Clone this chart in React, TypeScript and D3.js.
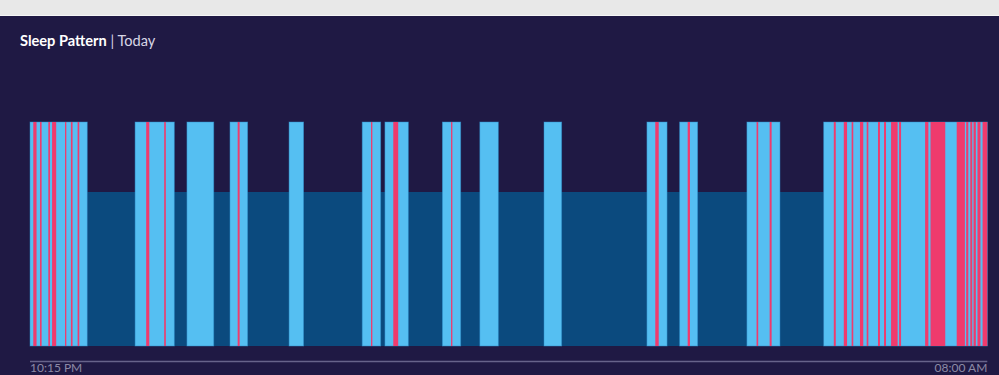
import React from 'react';
import * as d3 from 'd3';

// minutes after 10:15 PM, night ends 08:00 AM (585 min)
const nightLength = 585;
const tickLabels = ['10:15 PM', '08:00 AM'];

// asleep (dark blue, low bar)
const asleepPeriods: [number, number][] = [[35, 485]];

// restless (light blue, tall)
const restlessPeriods: [number, number][] = [
  [0, 35], [64.2, 88.2], [95.9, 112.3], [122.2, 133], [158.3, 167.2],
  [203, 214.3], [216.9, 231.2], [252, 263.2], [274.9, 286.2], [314.1, 324.9],
  [377, 389.3], [397, 408], [438.1, 458.3], [485, 585],
];

// awake (pink, tall)
const awakePeriods: [number, number][] = [
  [2, 4], [6.1, 7.1], [11.2, 12.2], [13.5, 16], [21.4, 22.2], [25, 26], [29.1, 30.1],
  [71, 72.9], [82, 83], [126.9, 128.1], [208.4, 209.2], [222, 225], [257.3, 258.1],
  [382.1, 384.2], [401.9, 403.3], [444, 445], [452, 453.2],
  [491.2, 492.4], [497.3, 499.3], [502.1, 503.1], [507.2, 509.2], [511.3, 512.3],
  [518.2, 519.4], [521.9, 523.1], [526.2, 530.2], [531.1, 532.3], [547, 549],
  [550.3, 559.3], [566.3, 571.3], [572.1, 573.4], [574.6, 575.8], [576.6, 578],
  [579, 580.8], [582.1, 585],
];

const W = 999;
const H = 375;

export default function App() {
  const x = d3.scaleLinear().domain([0, nightLength]).range([30, 987.3]);
  // level scale: 0 = baseline, 2 = restless/awake height
  const y = d3.scaleLinear().domain([0, 2]).range([346, 122]);
  const yAsleep = 192;

  const rects = (data: [number, number][], top: number, fill: string, stroke?: string) =>
    data.map(([s, e], i) => (
      <rect
        key={fill + i}
        x={x(s)}
        y={top}
        width={Math.max(0.8, x(e) - x(s))}
        height={y(0) - top}
        fill={fill}
        stroke={stroke || 'none'}
        strokeWidth={stroke ? 0.8 : 0}
        strokeOpacity={0.6}
      />
    ));

  const font = "Lato, 'Open Sans', sans-serif";

  return (
    <svg width={W} height={H} style={{ position: 'absolute', left: 0, top: 0 }}>
      <rect x={0} y={0} width={W} height={H} fill="#1f1944" />
      <rect x={0} y={0} width={W} height={15} fill="#e8e8e8" />
      <rect x={0} y={15} width={W} height={1} fill="#f6f6f6" />

      <text x={20} y={46} fontFamily={font} fontSize={14.6} fill="#ffffff">
        <tspan fontWeight={700}>Sleep Pattern</tspan>
        <tspan fill="#d8d6e6" fontWeight={400}> | Today</tspan>
      </text>

      {rects(asleepPeriods, yAsleep, '#0b4a7e')}
      {rects(restlessPeriods, y(2), '#55bff2', '#2f8cc8')}
      {rects(awakePeriods, y(2), '#ef3b6d')}

      <line x1={x(0)} x2={x(nightLength)} y1={361.5} y2={361.5} stroke="#67638a" strokeWidth={1.5} />
      <text x={x(0)} y={372} fontFamily={font} fontSize={12} fill="#8d8aa6">
        {tickLabels[0]}
      </text>
      <text x={x(nightLength)} y={372} textAnchor="end" fontFamily={font} fontSize={12} fill="#8d8aa6">
        {tickLabels[1]}
      </text>
    </svg>
  );
}
